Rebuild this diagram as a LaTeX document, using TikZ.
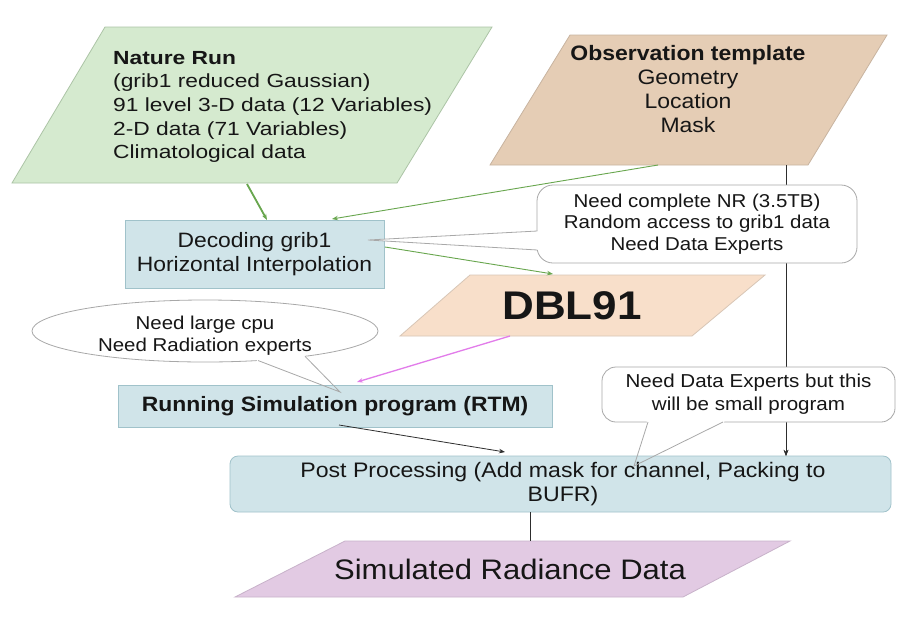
\documentclass[tikz,border=0pt]{standalone}
\usepackage{fontspec}
\setmainfont{Liberation Sans}[FakeStretch=1.1]
\newfontfamily\widefont{Liberation Sans}[FakeStretch=1.2]
\usetikzlibrary{arrows.meta,shapes.geometric}

\definecolor{ink}{RGB}{22,22,22}
\definecolor{natfill}{RGB}{213,234,207}
\definecolor{natline}{RGB}{172,196,166}
\definecolor{obsfill}{RGB}{229,205,181}
\definecolor{obsline}{RGB}{200,180,160}
\definecolor{dblfill}{RGB}{248,223,202}
\definecolor{dblline}{RGB}{216,198,182}
\definecolor{boxfill}{RGB}{208,228,233}
\definecolor{boxline}{RGB}{160,194,202}
\definecolor{simfill}{RGB}{226,202,227}
\definecolor{simline}{RGB}{200,178,202}
\definecolor{noteline}{RGB}{168,168,168}
\definecolor{flowgreen}{RGB}{104,166,78}
\definecolor{flowpink}{RGB}{226,124,234}
\definecolor{flowdark}{RGB}{45,45,45}

\tikzset{
  every node/.style={text=ink, inner sep=0pt, align=center},
  procbox/.style={draw=boxline, fill=boxfill, line width=0.8pt},
  notebox/.style={draw=noteline, fill=white, line width=0.8pt},
  noteedge/.style={draw=noteline, line width=0.8pt},
  tip/.style={-{Stealth[length=6pt,width=4.5pt]}},
  greenflow/.style={tip, draw=flowgreen, line width=0.9pt},
  pinkflow/.style={tip, draw=flowpink, line width=1.3pt},
  darkflow/.style={tip, draw=flowdark, line width=0.8pt},
  plainlink/.style={draw=flowdark, line width=0.8pt},
  txt/.style={font=\fontsize{#1}{24}\selectfont},
}

\begin{document}
\begin{tikzpicture}[x=1pt,y=-1pt]
\useasboundingbox[fill=white] (0,0) rectangle (909,619);

% ---- input data sets (parallelograms) ----
\filldraw[fill=natfill, draw=natline, line width=0.8pt]
  (105,27) -- (492,27) -- (397,183) -- (12,183) -- cycle;
\node[anchor=west, align=left, font=\widefont\fontsize{19}{23.6}\selectfont] (nrtext) at (113,107)
  {\textbf{Nature Run}\\(grib1 reduced Gaussian)\\91 level 3-D data (12 Variables)\\2-D data (71 Variables)\\Climatological data};

\filldraw[fill=obsfill, draw=obsline, line width=0.8pt]
  (570,35) -- (887,35) -- (808,165) -- (490,165) -- cycle;
\node[font=\fontsize{20.9}{23.7}\selectfont] (obstext) at (688,89)
  {\textbf{Observation template}\\Geometry\\Location\\Mask};

% connector end points on the parallelogram edges
\coordinate (nrOut)  at (247,184);
\coordinate (obsOutA) at (658,165);
\coordinate (obsOutB) at (786,165);

% ---- decoding step ----
\node[procbox, minimum width=259pt, minimum height=68pt, txt=20.8] (dec) at (254.5,254)
  {Decoding grib1\\Horizontal Interpolation};
\coordinate (decInA) at (267,220);
\coordinate (decInB) at (332,219);
\coordinate (decOut) at (385,247);
\coordinate (decNote) at (368,240);

% observation template feeds the post processing (drawn below the notes)
\coordinate (postInObs) at (786,456);
\draw[darkflow] (obsOutB) -- (postInObs);

\draw[greenflow, line width=1.8pt] (nrOut) -- (decInA);
\draw[greenflow] (obsOutA) -- (decInB);

% ---- DBL91 data set ----
\filldraw[fill=dblfill, draw=dblline, line width=0.8pt]
  (470,275) -- (765,275) -- (692,336) -- (400,336) -- cycle;
\node[font=\bfseries\fontsize{40}{44}\selectfont] (dbl) at (572,306) {DBL91};
\coordinate (dblIn) at (553,274);
\coordinate (dblOut) at (510,336);
\draw[greenflow] (decOut) -- (dblIn);

% ---- note on the decoding step ----
\node[notebox, rounded corners=16pt, minimum width=320pt, minimum height=78pt,
      font=\fontsize{18.6}{21.5}\selectfont] (noteA) at (697,224)
  {Need complete NR (3.5TB)\\Random access to grib1 data\\Need Data Experts};
\fill[white] (540,231) -- (decNote) -- (540,250) -- cycle;
\draw[noteedge] (537.4,231) -- (decNote) -- (537.4,250);

% ---- note on the simulation step (ellipse with pointer) ----
\node[notebox, ellipse, minimum width=346pt, minimum height=62pt] (noteB) at (205,331) {};
\coordinate (noteBtip) at (340,392);
\fill[white] (256,362) -- (noteBtip) -- (307,357) -- (292,346) -- (262,350) -- cycle;

% ---- simulation step ----
\node[procbox, minimum width=434pt, minimum height=42pt,
      font=\bfseries\fontsize{20.8}{24}\selectfont] (rtm) at (335,406)
  {Running Simulation program (RTM)};
\node[font=\fontsize{18.6}{22}\selectfont] (noteBtext) at (205,336)
  {Need large cpu\\Need Radiation experts};
\draw[noteedge] (258,360.5) -- (noteBtip) -- (305,356.3);
\coordinate (rtmIn)  at (357,382);
\coordinate (rtmOut) at (339,425);
\draw[pinkflow] (dblOut) -- (rtmIn);

% ---- note on the post processing ----
\node[notebox, rounded corners=14pt, minimum width=293pt, minimum height=55pt,
      font=\fontsize{18.7}{23}\selectfont] (noteC) at (748.5,394.5)
  {Need Data Experts but this\\will be small program};
\coordinate (noteCtip) at (634,466);
\fill[white] (646,420) -- (725,420) -- (723.5,423) -- (noteCtip) -- (647.5,423) -- cycle;

% ---- post processing ----
\node[procbox, rounded corners=8pt, minimum width=661pt, minimum height=56pt,
      font=\fontsize{21}{23.5}\selectfont] (post) at (560.5,484)
  {\hspace*{5pt}Post Processing (Add mask for channel, Packing to\\\hspace*{5pt}BUFR)};
\draw[noteedge] (648,422) -- (noteCtip) -- (723,422);
\coordinate (postIn) at (505,452);
\draw[darkflow] (rtmOut) -- (postIn);
\draw[darkflow] (786,430) -- (postInObs);

% ---- output data set ----
\filldraw[fill=simfill, draw=simline, line width=0.8pt]
  (345,541) -- (790,541) -- (683,597) -- (235,597) -- cycle;
\node[font=\fontsize{28.2}{32}\selectfont] (sim) at (510,569) {Simulated Radiance Data};
\coordinate (postOut) at (530,512);
\coordinate (simIn) at (530,541);
\draw[plainlink] (postOut) -- (simIn);
\end{tikzpicture}
\end{document}
